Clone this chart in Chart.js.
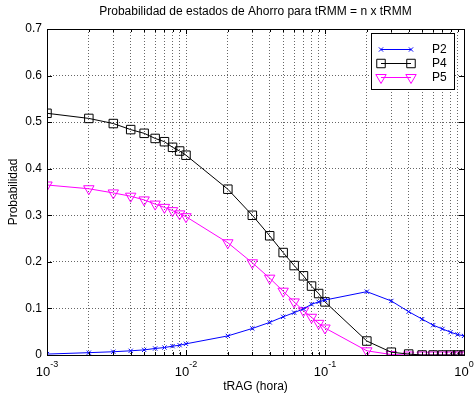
<!DOCTYPE html>
<html>
<head>
<meta charset="utf-8">
<script src="https://cdn.jsdelivr.net/npm/chart.js@4/dist/chart.umd.min.js"></script>
<style>
  html, body { margin: 0; padding: 0; background: #fff; }
  canvas { display: block; }
</style>
</head>
<body>
<canvas id="myChart" width="474" height="398"></canvas>
<script>
// tRAG values (hora)
var tRag = [0.001, 0.002, 0.003, 0.004, 0.005, 0.006, 0.007, 0.008, 0.009,
            0.01, 0.02, 0.03, 0.04, 0.05, 0.06, 0.07, 0.08, 0.09,
            0.1, 0.2, 0.3, 0.4, 0.5, 0.6, 0.7, 0.8, 0.9, 1];

var p2 = [0.002, 0.005, 0.007, 0.009, 0.011, 0.014, 0.016, 0.019, 0.021,
          0.024, 0.041, 0.057, 0.070, 0.082, 0.091, 0.099, 0.109, 0.114,
          0.118, 0.136, 0.116, 0.093, 0.077, 0.064, 0.056, 0.049, 0.044, 0.041];

var p4 = [0.519, 0.508, 0.497, 0.484, 0.476, 0.465, 0.458, 0.446, 0.438,
          0.429, 0.356, 0.300, 0.256, 0.220, 0.192, 0.170, 0.148, 0.132,
          0.114, 0.030, 0.006, 0.002, 0, 0, 0, 0, 0, 0];

var p5 = [0.365, 0.357, 0.348, 0.341, 0.333, 0.324, 0.317, 0.310, 0.303,
          0.297, 0.241, 0.198, 0.165, 0.137, 0.114, 0.095, 0.081, 0.068,
          0.058, 0.009, 0.001, 0, 0, 0, 0, 0, 0, 0];

var yTicks = [0, 0.1, 0.2, 0.3, 0.4, 0.5, 0.6, 0.7];
var xDecades = [-3, -2, -1, 0];

var titleText = 'Probabilidad de estados de Ahorro para tRMM = n x tRMM';
var xTitle = 'tRAG (hora)';
var yTitle = 'Probabilidad';
var FONT = '"Liberation Sans", Arial, Helvetica, sans-serif';

function toPoints(ys) {
    return tRag.map(function (x, i) { return { x: x, y: ys[i] }; });
}

var series = [
    { label: 'P2', data: p2, color: '#0000ff', style: 'crossRot', radius: 3, rot: 0 },
    { label: 'P4', data: p4, color: '#000000', style: 'rect', radius: 6, rot: 0 },
    { label: 'P5', data: p5, color: '#ff00ff', style: 'triangle', radius: 6, rot: 180 }
];

// all log ticks: 1..9 x each decade
var logTicks = [];
for (var d = -3; d < 0; d++) {
    for (var m = 1; m < 10; m++) logTicks.push(m * Math.pow(10, d));
}
logTicks.push(1);

var matlabDecor = {
    id: 'matlabDecor',
    afterDatasetsDraw: function (chart) {
        var ctx = chart.ctx;
        var a = chart.chartArea;
        var xs = chart.scales.x, ys = chart.scales.y;
        ctx.save();
        ctx.strokeStyle = '#000';
        ctx.lineWidth = 1;
        // inner tick marks
        ctx.beginPath();
        logTicks.forEach(function (v) {
            var px = Math.round(xs.getPixelForValue(v)) + 0.5;
            var len = (Math.abs(Math.log10(v) - Math.round(Math.log10(v))) < 1e-9) ? 5 : 3;
            ctx.moveTo(px, a.bottom); ctx.lineTo(px, a.bottom - len);
            ctx.moveTo(px, a.top); ctx.lineTo(px, a.top + len);
        });
        yTicks.forEach(function (v) {
            var py = Math.round(ys.getPixelForValue(v)) + 0.5;
            ctx.moveTo(a.left, py); ctx.lineTo(a.left + 5, py);
            ctx.moveTo(a.right, py); ctx.lineTo(a.right - 5, py);
        });
        ctx.stroke();
        // box
        ctx.strokeRect(Math.round(a.left) + 0.5, Math.round(a.top) + 0.5,
                       Math.round(a.right - a.left), Math.round(a.bottom - a.top));

        // legend
        var lx = 371, ly = 33, lw = 83, lh = 56;
        ctx.fillStyle = '#fff';
        ctx.fillRect(lx, ly, lw, lh);
        ctx.strokeRect(lx + 0.5, ly + 0.5, lw, lh);
        var rows = [49, 63, 77];
        series.forEach(function (s, i) {
            var y = rows[i] + 0.5;
            ctx.strokeStyle = s.color;
            ctx.lineWidth = 1;
            ctx.beginPath();
            ctx.moveTo(381, y); ctx.lineTo(411, y);
            ctx.stroke();
            var opts = { pointStyle: s.style, radius: s.radius, rotation: s.rot, borderWidth: 1 };
            ctx.fillStyle = 'rgba(0,0,0,0)';
            Chart.helpers.drawPoint(ctx, opts, 381, y);
            Chart.helpers.drawPoint(ctx, opts, 411, y);
            ctx.fillStyle = '#000';
            ctx.font = '12px ' + FONT;
            ctx.textAlign = 'left';
            ctx.textBaseline = 'middle';
            ctx.fillText(s.label, 432, rows[i] + 1);
        });
        ctx.restore();
    },
    afterDraw: function (chart) {
        var ctx = chart.ctx;
        var a = chart.chartArea;
        var xs = chart.scales.x;
        ctx.save();
        ctx.fillStyle = '#000';
        // title
        ctx.font = '12px ' + FONT;
        ctx.textAlign = 'center';
        ctx.textBaseline = 'middle';
        ctx.fillText(titleText, (a.left + a.right) / 2, 12);
        // x axis title
        ctx.fillText(xTitle, (a.left + a.right) / 2, 387);
        // y axis title
        ctx.save();
        ctx.translate(14, (a.top + a.bottom) / 2);
        ctx.rotate(-Math.PI / 2);
        ctx.fillText(yTitle, 0, 0);
        ctx.restore();
        // x tick labels 10^n
        ctx.textBaseline = 'alphabetic';
        ctx.textAlign = 'left';
        xDecades.forEach(function (e) {
            var px = xs.getPixelForValue(Math.pow(10, e));
            var base = '10', exp = String(e);
            ctx.font = '13px ' + FONT;
            var wb = ctx.measureText(base).width;
            ctx.font = '9px ' + FONT;
            var we = ctx.measureText(exp).width;
            var x0 = px - (wb + we) / 2;
            ctx.font = '13px ' + FONT;
            ctx.fillText(base, x0, 376);
            ctx.font = '9px ' + FONT;
            ctx.fillText(exp, x0 + wb, 367);
        });
        ctx.restore();
    }
};

function createChart() {
    var ctx = document.getElementById('myChart');
    new Chart(ctx, {
        type: 'line',
        data: {
            datasets: series.map(function (s) {
                return {
                    label: s.label,
                    data: toPoints(s.data),
                    borderColor: s.color,
                    borderWidth: 1,
                    backgroundColor: 'rgba(0,0,0,0)',
                    pointStyle: s.style,
                    pointRadius: s.radius,
                    pointRotation: s.rot,
                    pointBorderColor: s.color,
                    pointBackgroundColor: 'rgba(0,0,0,0)',
                    pointBorderWidth: 1,
                    tension: 0,
                    fill: false
                };
            })
        },
        options: {
            responsive: false,
            animation: false,
            devicePixelRatio: 1,
            layout: { padding: { top: 29, right: 10, left: 0, bottom: 0 } },
            plugins: {
                legend: { display: false },
                title: { display: false },
                tooltip: { enabled: false }
            },
            scales: {
                x: {
                    type: 'logarithmic',
                    min: 0.001,
                    max: 1,
                    afterBuildTicks: function (scale) {
                        scale.ticks = logTicks.map(function (v) { return { value: v }; });
                    },
                    afterFit: function (scale) { scale.height = 43; },
                    ticks: { display: false },
                    grid: { color: 'rgba(0,0,0,0.6)', lineWidth: 1, drawTicks: false },
                    border: { display: false, dash: [1, 2] }
                },
                y: {
                    min: 0,
                    max: 0.7,
                    afterBuildTicks: function (scale) {
                        scale.ticks = yTicks.map(function (v) { return { value: v }; });
                    },
                    afterFit: function (scale) { scale.width = 47; },
                    ticks: {
                        color: '#000',
                        padding: 5,
                        font: { family: FONT, size: 12 },
                        callback: function (v) { return String(Math.round(v * 10) / 10); }
                    },
                    grid: { color: 'rgba(0,0,0,0.6)', lineWidth: 1, drawTicks: false },
                    border: { display: false, dash: [1, 2] }
                }
            }
        },
        plugins: [matlabDecor]
    });
}
createChart();
</script>
</body>
</html>
